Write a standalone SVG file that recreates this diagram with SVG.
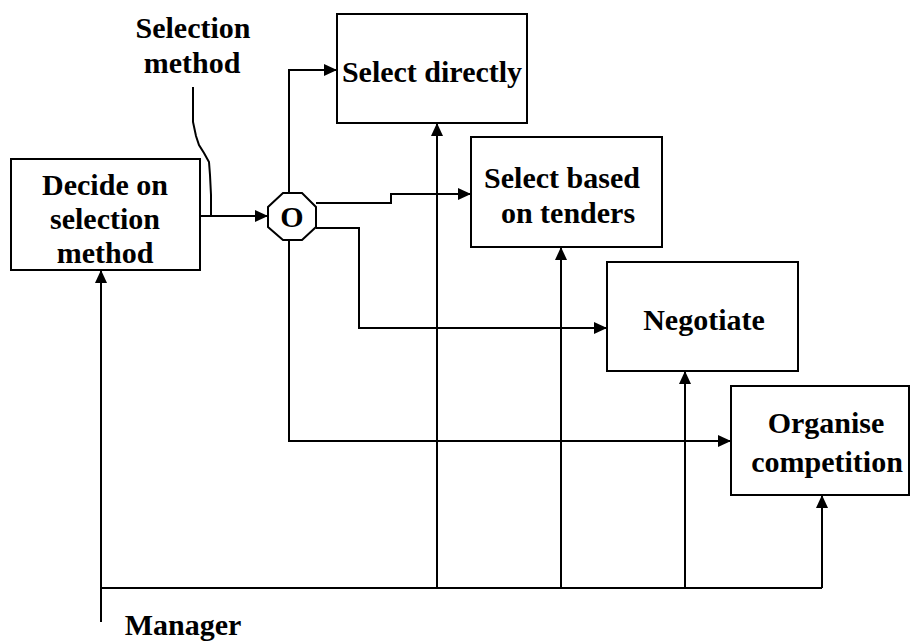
<svg xmlns="http://www.w3.org/2000/svg" width="910" height="642" viewBox="0 0 910 642">
  <defs>
    <style>
      .box { fill: #ffffff; stroke: #000000; stroke-width: 2; }
      .ln { fill: none; stroke: #000000; stroke-width: 2; }
      .arr { marker-end: url(#ah); }
      .lbl { font-family: "Liberation Serif", "Times New Roman", serif; font-weight: bold; font-size: 30px; fill: #000000; text-anchor: middle; }
    </style>
    <marker id="ah" markerUnits="userSpaceOnUse" markerWidth="14" markerHeight="14" viewBox="0 0 14 14" refX="13" refY="7" orient="auto">
      <path d="M0,1 L13,7 L0,13 Z" fill="#000000"/>
    </marker>
  </defs>

  <!-- connectors -->
  <g id="connectors">
    <!-- control input: selection method -->
    <path class="ln" d="M193,87 L193,122 L196,136 L199,145 L204,153 L209,162 L210,175 L211,195 L211,216"/>
    <path class="ln arr" d="M200,216 L268,216"/>
    <!-- branches leaving the OR junction -->
    <path class="ln arr" d="M289,193 L289,70 L337,70"/>
    <path class="ln arr" d="M316,203 L391,203 L391,194 L471,194"/>
    <path class="ln arr" d="M316,228 L359,228 L359,328 L607,328"/>
    <path class="ln arr" d="M289,240 L289,441 L731,441"/>
    <!-- mechanism: manager -->
    <path class="ln arr" d="M101,622 L101,270"/>
    <path class="ln" d="M101,588 L822,588"/>
    <path class="ln arr" d="M437,588 L437,123"/>
    <path class="ln arr" d="M561,588 L561,247"/>
    <path class="ln arr" d="M685,588 L685,371"/>
    <path class="ln arr" d="M822,588 L822,495"/>
  </g>

  <g id="label-selection-method">
    <text class="lbl" x="193" y="38">Selection</text>
    <text class="lbl" x="192" y="73">method</text>
  </g>

  <g id="label-manager">
    <text class="lbl" x="183" y="635">Manager</text>
  </g>

  <g id="decide">
    <rect class="box" x="11" y="159" width="189" height="111"/>
    <text class="lbl" x="105" y="195">Decide on</text>
    <text class="lbl" x="105" y="229">selection</text>
    <text class="lbl" x="105" y="263">method</text>
  </g>

  <g id="or-junction">
    <polygon class="box" points="283,193 302,193 316,207 316,227 302,240 283,240 268,227 268,207"/>
    <text class="lbl" x="292" y="227">O</text>
  </g>

  <g id="select-directly">
    <rect class="box" x="337" y="14" width="190" height="109"/>
    <text class="lbl" x="432" y="82">Select directly</text>
  </g>

  <g id="select-tenders">
    <rect class="box" x="471" y="137" width="191" height="110"/>
    <text class="lbl" x="562" y="188">Select based</text>
    <text class="lbl" x="568" y="223">on tenders</text>
  </g>

  <g id="negotiate">
    <rect class="box" x="607" y="262" width="191" height="109"/>
    <text class="lbl" x="704" y="330">Negotiate</text>
  </g>

  <g id="organise">
    <rect class="box" x="731" y="386" width="178" height="109"/>
    <text class="lbl" x="826" y="433">Organise</text>
    <text class="lbl" x="827" y="472">competition</text>
  </g>
</svg>
